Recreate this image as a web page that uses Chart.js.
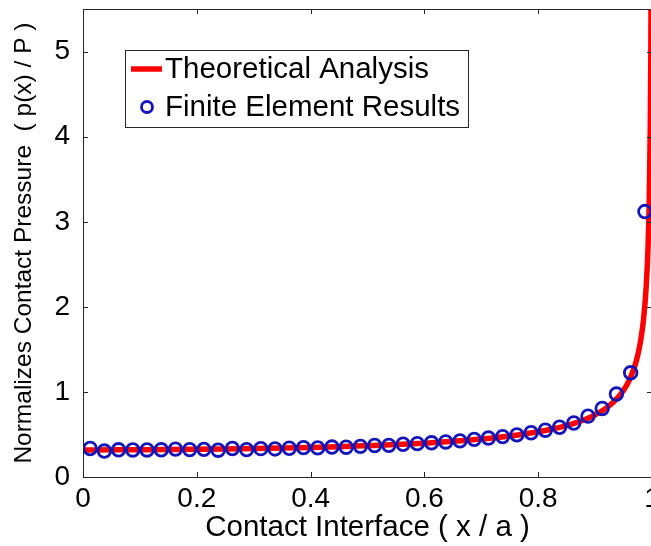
<!DOCTYPE html>
<html>
<head>
<meta charset="utf-8">
<script src="https://cdn.jsdelivr.net/npm/chart.js@4.4.1/dist/chart.umd.min.js"></script>
<style>
  html, body { margin: 0; padding: 0; background: #ffffff; overflow: hidden; }
  #wrap { position: absolute; left: 0; top: 0; width: 700px; height: 546px; }
</style>
</head>
<body>
<div id="wrap"><canvas id="c" width="700" height="546"></canvas></div>
<script>
// Theoretical contact pressure curve p(x)/P along the contact interface x/a
const theoryX = [0, 0.05, 0.1, 0.15, 0.2, 0.25, 0.3, 0.35, 0.4, 0.45, 0.5, 0.55, 0.6, 0.65, 0.7,
                 0.75, 0.8, 0.85, 0.88, 0.9, 0.92, 0.94, 0.95, 0.96, 0.97, 0.975, 0.98, 0.985,
                 0.99, 0.993, 0.995, 0.997, 0.998, 0.999];
const theoryY = [0.318, 0.319, 0.320, 0.322, 0.325, 0.329, 0.334, 0.340, 0.347, 0.356, 0.368, 0.381, 0.398, 0.419, 0.446,
                 0.481, 0.531, 0.604, 0.670, 0.730, 0.812, 0.933, 1.019, 1.137, 1.309, 1.433, 1.600, 1.845,
                 2.256, 2.695, 3.187, 4.113, 5.035, 7.12];

// Finite element nodal results
const feX = [0.0125, 0.0375, 0.0625, 0.0875, 0.1125, 0.1375, 0.1625, 0.1875, 0.2125, 0.2375,
             0.2625, 0.2875, 0.3125, 0.3375, 0.3625, 0.3875, 0.4125, 0.4375, 0.4625, 0.4875,
             0.5125, 0.5375, 0.5625, 0.5875, 0.6125, 0.6375, 0.6625, 0.6875, 0.7125, 0.7375,
             0.7625, 0.7875, 0.8125, 0.8375, 0.8625, 0.8875, 0.9125, 0.9375, 0.9625, 0.9875];
const feY = [0.335, 0.305, 0.320, 0.318, 0.318, 0.320, 0.328, 0.322, 0.325, 0.315,
             0.335, 0.322, 0.333, 0.330, 0.338, 0.345, 0.342, 0.352, 0.350, 0.360,
             0.370, 0.372, 0.385, 0.392, 0.402, 0.412, 0.425, 0.442, 0.458, 0.475,
             0.495, 0.520, 0.550, 0.585, 0.635, 0.715, 0.805, 0.975, 1.225, 3.12];

const xTicks = [0, 0.2, 0.4, 0.6, 0.8, 1];
const yTicks = [0, 1, 2, 3, 4, 5];
const seriesNames = ['Theoretical Analysis', 'Finite Element Results'];
const xTitle = 'Contact Interface ( x / a )';
const yTitle = 'Normalizes Contact Pressure  ( p(x) / P )';

const RED = '#ff0000';
const BLUE = '#1414b8';
const FONT = '"Liberation Sans", Arial, Helvetica, sans-serif';

Chart.defaults.font.family = FONT;
Chart.defaults.color = '#000000';

const toPoints = (xs, ys) => xs.map((x, i) => ({ x: x, y: ys[i] }));

// Box around the axes with inward tick marks on all four sides,
// plus the x tick labels set just under the box
const framePlugin = {
  id: 'frame',
  afterDatasetsDraw(chart) {
    const { ctx, chartArea: a, scales: { x, y } } = chart;
    const len = 5;
    ctx.save();
    ctx.strokeStyle = '#262626';
    ctx.lineWidth = 1;
    ctx.beginPath();
    x.ticks.forEach(t => {
      const px = Math.round(x.getPixelForValue(t.value)) + 0.5;
      ctx.moveTo(px, a.bottom); ctx.lineTo(px, a.bottom - len);
      ctx.moveTo(px, a.top); ctx.lineTo(px, a.top + len);
    });
    y.ticks.forEach(t => {
      const py = Math.round(y.getPixelForValue(t.value)) + 0.5;
      ctx.moveTo(a.left, py); ctx.lineTo(a.left + len, py);
      ctx.moveTo(a.right, py); ctx.lineTo(a.right - len, py);
    });
    ctx.stroke();
    ctx.strokeRect(Math.round(a.left) + 0.5, Math.round(a.top) + 0.5,
                   Math.round(a.right - a.left), Math.round(a.bottom - a.top));

    ctx.fillStyle = '#000000';
    ctx.font = '28px ' + FONT;
    ctx.textAlign = 'center';
    ctx.textBaseline = 'alphabetic';
    x.ticks.forEach(t => {
      ctx.fillText(String(t.value), x.getPixelForValue(t.value), a.bottom + 30);
    });
    ctx.restore();
  },
  // Legend box inside the plot, upper left
  afterDraw(chart) {
    const { ctx, chartArea: a } = chart;
    const bx = Math.round(a.left) + 42, by = Math.round(a.top) + 41;
    const bw = 343, bh = 77;
    ctx.save();
    ctx.fillStyle = '#ffffff';
    ctx.fillRect(bx, by, bw, bh);
    ctx.strokeStyle = '#262626';
    ctx.lineWidth = 1;
    ctx.strokeRect(bx + 0.5, by + 0.5, bw, bh);

    const row1 = by + 19, row2 = by + 57;
    ctx.strokeStyle = RED;
    ctx.lineWidth = 5.5;
    ctx.beginPath();
    ctx.moveTo(bx + 6, row1); ctx.lineTo(bx + 37, row1);
    ctx.stroke();

    ctx.strokeStyle = BLUE;
    ctx.lineWidth = 2.8;
    ctx.beginPath();
    ctx.arc(bx + 22, row2, 5.5, 0, Math.PI * 2);
    ctx.stroke();

    ctx.fillStyle = '#000000';
    ctx.font = '29.5px ' + FONT;
    ctx.textBaseline = 'middle';
    ctx.textAlign = 'left';
    ctx.fillText(seriesNames[0], bx + 40, row1 + 1);
    ctx.fillText(seriesNames[1], bx + 40, row2 + 1);
    ctx.restore();
  }
};

new Chart(document.getElementById('c'), {
  type: 'scatter',
  data: {
    datasets: [
      {
        label: seriesNames[1],
        data: toPoints(feX, feY),
        showLine: false,
        pointStyle: 'circle',
        pointRadius: 6.3,
        pointBorderWidth: 2.8,
        pointBorderColor: BLUE,
        pointBackgroundColor: 'rgba(0,0,0,0)',
        order: 1
      },
      {
        label: seriesNames[0],
        data: toPoints(theoryX, theoryY),
        showLine: true,
        borderColor: RED,
        borderWidth: 5.5,
        pointRadius: 0,
        cubicInterpolationMode: 'monotone',
        fill: false,
        order: 2
      }
    ]
  },
  options: {
    responsive: false,
    devicePixelRatio: 1,
    animation: false,
    events: [],
    layout: { padding: { top: 6, right: 48, left: 0, bottom: 0 } },
    plugins: { legend: { display: false }, tooltip: { enabled: false } },
    scales: {
      x: {
        type: 'linear',
        min: 0,
        max: 1,
        grid: { display: false },
        border: { display: false },
        afterBuildTicks: s => { s.ticks = xTicks.map(v => ({ value: v })); },
        afterFit: s => { s.height = 69; s.paddingLeft = 0; s.paddingRight = 0; },
        ticks: { display: false },
        title: {
          display: true,
          text: xTitle,
          font: { size: 29.5 },
          color: '#000000',
          padding: { top: 0, bottom: 0 }
        }
      },
      y: {
        type: 'linear',
        min: 0,
        max: 5.5,
        grid: { display: false },
        border: { display: false },
        afterBuildTicks: s => { s.ticks = yTicks.map(v => ({ value: v })); },
        afterFit: s => { s.width = 83; s.paddingTop = 0; s.paddingBottom = 0; },
        ticks: {
          font: { size: 28 },
          color: '#000000',
          padding: 5,
          autoSkip: false,
          callback: v => String(v)
        },
        title: {
          display: true,
          text: yTitle,
          font: { size: 24.5 },
          color: '#000000',
          padding: { top: 10, bottom: 0 }
        }
      }
    }
  },
  plugins: [framePlugin]
});
</script>
</body>
</html>
